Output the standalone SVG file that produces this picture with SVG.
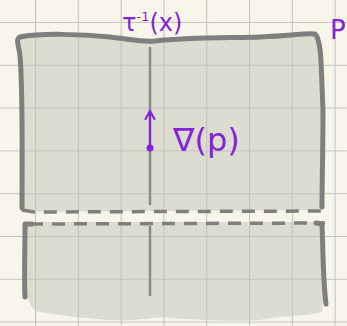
<svg xmlns="http://www.w3.org/2000/svg" width="347" height="326" viewBox="0 0 347 326">
<defs>
<pattern id="grid" width="42.8" height="42.8" patternUnits="userSpaceOnUse" x="35" y="22">
<path d="M0 0V42.8M0 0H42.8" fill="none" stroke="#c3c4c7" stroke-width="2.2"/>
</pattern>
<style>
.edge{fill:none;stroke:#7f7f7f;stroke-width:5;stroke-linecap:round;stroke-linejoin:round}
.dash{fill:none;stroke:#7f7f7f;stroke-width:3.5;stroke-dasharray:13 9}
.fill{fill:#dcdcd0}
.lbl{font-family:"DejaVu Sans",sans-serif;fill:#8424d4}
.pen{fill:none;stroke:#8424d4;stroke-width:2.2;stroke-linecap:round;stroke-linejoin:round}
</style>
</defs>
<rect width="347" height="326" fill="#f8f6ea"/>
<g id="upper">
<path class="fill" d="M20 34C40 33 80 34 110 37C130 39 140 42 155 41C190 37 230 38 260 37C290 36 310 33 318 34C322 60 323 120 322 210L22 212C21 170 22 80 19 38Z"/>
</g>
<g id="lower">
<path class="fill" d="M26 222L322 222C324 250 325 290 322 312C300 318 280 315 260 320C230 322 200 320 170 318C150 316 140 322 110 320C80 318 60 315 40 312C30 310 28 300 26 290Z"/>
</g>
<rect width="347" height="326" fill="url(#grid)"/>
<g id="outline">
<path class="edge" d="M22 208C22 170 23 90 20 56C19 45 15 40 20 37C40 33 80 34 110 37C130 39 140 42 155 41C190 37 230 38 260 37C290 36 305 33 315 34C322 40 321 70 323 110C323 150 322 180 322 207"/>
<path class="edge" d="M25 297C24 280 25 250 25 224L32 224"/>
<path class="edge" d="M316 223L322 224C323 250 323 280 326 304"/>
</g>
<g id="connectors">
<path class="dash" d="M22 210L34 212L322 211"/>
<path class="dash" d="M30 224L325 223"/>
<path d="M150 47V205M150 226V296" fill="none" stroke="#8a8a8a" stroke-width="2.5"/>
<path class="pen" d="M150 148V112M145.5 119L150 111L154.5 119"/>
<circle cx="150" cy="148" r="3.5" fill="#8424d4"/>
</g>
<g id="labels">
<text class="lbl" x="122" y="31" font-size="24">τ<tspan font-size="13" dy="-10">-1</tspan><tspan dy="10">(x)</tspan></text>
<text class="lbl" x="173" y="151" font-size="32">∇(p)</text>
<text class="lbl" x="330" y="39" font-size="26">P</text>
</g>
</svg>
